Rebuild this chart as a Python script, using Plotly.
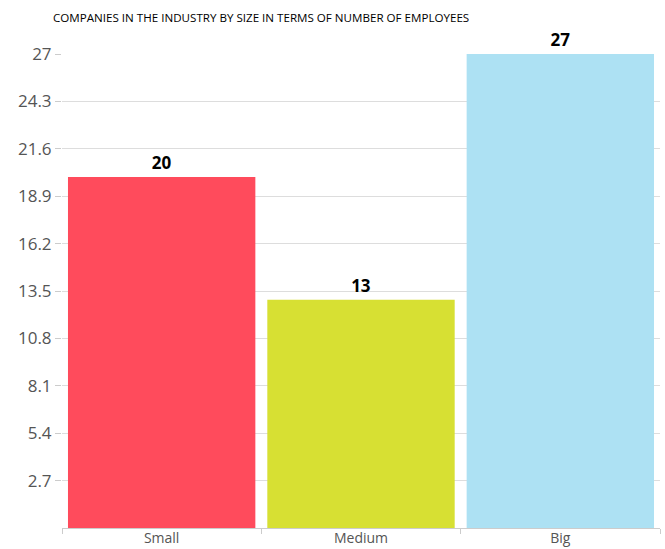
import plotly.graph_objects as go

categories = ["Small", "Medium", "Big"]
values = [20, 13, 27]
colors = ["#FF4B5C", "#D7E033", "#ADE1F3"]
y_ticks = [2.7, 5.4, 8.1, 10.8, 13.5, 16.2, 18.9, 21.6, 24.3, 27]
y_tick_labels = ["2.7", "5.4", "8.1", "10.8", "13.5", "16.2", "18.9", "21.6", "24.3", "27"]
title = "COMPANIES IN THE INDUSTRY BY SIZE IN TERMS OF NUMBER OF EMPLOYEES"

fig = go.Figure(go.Bar(
    x=categories, y=values, marker=dict(color=colors, line=dict(width=0)),
    text=[str(v) for v in values], textposition="outside", cliponaxis=False,
    textfont=dict(family="Open Sans", size=17, color="#000000", weight="bold"),
    width=0.94,
))

fig.update_layout(
    width=665, height=549,
    margin=dict(l=62, r=5, t=54, b=21, autoexpand=False),
    paper_bgcolor="white", plot_bgcolor="white",
    showlegend=False,
    font=dict(family="Open Sans", color="#555555"),
    title=dict(text=title, x=53 / 665, xref="container", xanchor="left",
               y=1 - 18 / 549, yref="container", yanchor="middle",
               font=dict(family="Open Sans", size=11.6, color="#000000")),
    xaxis=dict(showgrid=False, tickson="boundaries", ticks="outside", ticklen=5,
               tickcolor="#cccccc", showline=True, linecolor="#cccccc", linewidth=1,
               automargin=False, ticklabelstandoff=-3,
               tickfont=dict(size=14, color="#555555")),
    yaxis=dict(range=[0, 27], tickvals=y_ticks, ticktext=y_tick_labels,
               showgrid=True, gridcolor="#dddddd", gridwidth=1, zeroline=False,
               ticks="outside", ticklen=6, tickcolor="#cccccc", showline=False,
               automargin=False,
               tickfont=dict(size=17, color="#555555")),
)

fig.write_html("out.html", config={"displayModeBar": False},
               post_script="document.body.style.margin='0';")
